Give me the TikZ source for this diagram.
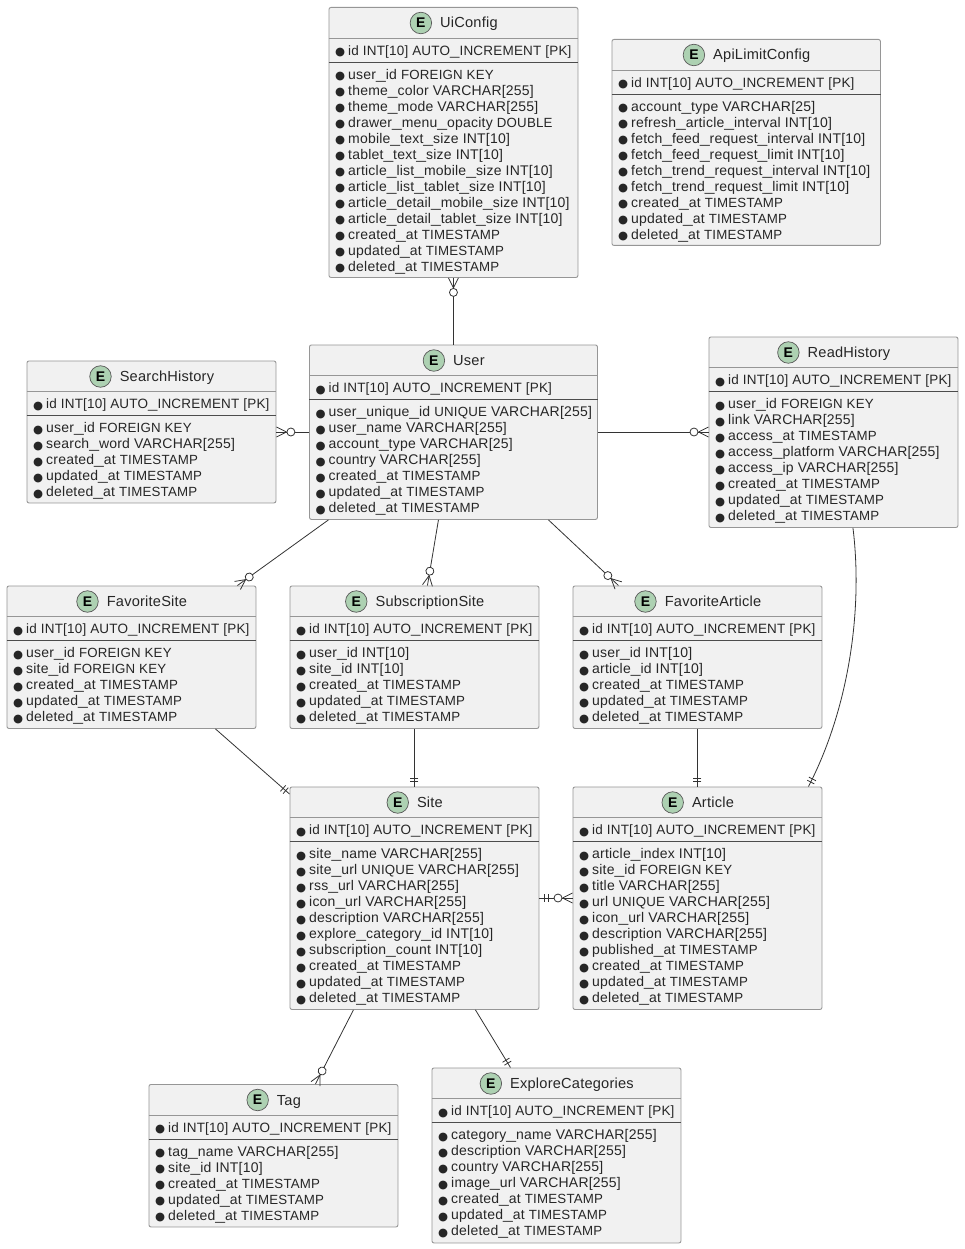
\documentclass[tikz,border=0pt]{standalone}
\usepackage{fontspec}
\usepackage{graphicx}
\setmainfont{Liberation Sans}[LetterSpace=1.5]
\newfontfamily\bulletfont{DejaVu Sans}
\usetikzlibrary{positioning,decorations.markings}

\definecolor{boxfill}{HTML}{F1F1F1}
\definecolor{boxline}{HTML}{969696}
\definecolor{iconfill}{HTML}{ADD1B2}
\definecolor{relline}{HTML}{333333}

\tikzset{
	entitybox/.style={draw=boxline, fill=boxfill, rounded corners=2pt, line width=.9pt, anchor=north west, inner sep=0pt},
	titletext/.style={font=\fontsize{14.6}{16}\selectfont, text=black!85, inner sep=0pt, text height=11pt, text depth=1pt},
	fieldtext/.style={font=\fontsize{14}{16}\selectfont, text=black!85, inner sep=0pt, align=left, anchor=north west},
	iconmark/.style={circle, draw=black!65, fill=iconfill, line width=.7pt, minimum size=21.5pt, inner sep=0pt, font=\bfseries\fontsize{14}{14}\selectfont},
	rel/.style={draw=relline, line width=.8pt},
	% crow's foot and circle, on either end of the line
	tozeromany/.style={postaction={decorate, decoration={markings, mark=at position .9999 with {
		\draw[rel] (-10,0) -- (0,-5) (-10,0) -- (0,5);
		\draw[rel, fill=white] (-14.5,0) circle (4);}}}},
	fromzeromany/.style={postaction={decorate, decoration={markings, mark=at position 0 with {
		\draw[rel] (10,0) -- (0,-5) (10,0) -- (0,5);
		\draw[rel, fill=white] (14.5,0) circle (4);}}}},
	toone/.style={postaction={decorate, decoration={markings, mark=at position .9999 with {
		\draw[rel] (-5,-4) -- (-5,4) (-8.5,-4) -- (-8.5,4);}}}},
	fromone/.style={postaction={decorate, decoration={markings, mark=at position 0 with {
		\draw[rel] (5,-4) -- (5,4) (8.5,-4) -- (8.5,4);}}}},
}

\renewcommand{\_}{\scalebox{1.25}[1]{\textunderscore}}
\newcommand{\fb}{\makebox[13pt][l]{\raisebox{-.5pt}{\fontsize{11.5}{16}\bulletfont ●}}}
\newcommand{\ty}[1]{{\fontsize{13.3}{16}\selectfont #1}}
\newcommand{\pkline}{\fb {\fontsize{13.5}{16}\selectfont id INT[10] AUTO\_INCREMENT [PK]}}

% name, left, top, width, height, title, fields
\newcommand{\entity}[7]{
	\node[entitybox, minimum width=#4pt, minimum height=#5pt] (#1) at (#2,#3) {};
	\node[titletext] (#1-title) at ([xshift=15.5pt,yshift=-16pt]#1.north) {#6};
	\node[iconmark, left=8pt of #1-title] (#1-icon) {E};
	\draw[boxline] ([yshift=-31pt]#1.north west) -- ([yshift=-31pt]#1.north east);
	\node[fieldtext] (#1-pk) at ([xshift=6.5pt,yshift=-38.5pt]#1.north west) {\pkline};
	\draw[black!70] ([yshift=-55pt]#1.north west) -- ([yshift=-55pt]#1.north east);
	\node[fieldtext] (#1-fields) at ([xshift=6.5pt,yshift=-62pt]#1.north west) {#7};
}

\begin{document}
\begin{tikzpicture}[x=1pt,y=-1pt]
	\useasboundingbox (0,0) rectangle (964,1249);

	\entity{uiconfig}{328.5}{7}{249}{270}{UiConfig}{\fb user\_id \ty{FOREIGN KEY}\\\fb theme\_color VARCHAR[255]\\\fb theme\_mode VARCHAR[255]\\\fb drawer\_menu\_opacity \ty{DOUBLE}\\\fb mobile\_text\_size INT[10]\\\fb tablet\_text\_size INT[10]\\\fb article\_list\_mobile\_size INT[10]\\\fb article\_list\_tablet\_size INT[10]\\\fb article\_detail\_mobile\_size INT[10]\\\fb article\_detail\_tablet\_size INT[10]\\\fb created\_at \ty{TIMESTAMP}\\\fb updated\_at \ty{TIMESTAMP}\\\fb deleted\_at \ty{TIMESTAMP}}
	\entity{apilimit}{611.5}{39}{268.5}{206}{ApiLimitConfig}{\fb account\_type VARCHAR[25]\\\fb refresh\_article\_interval INT[10]\\\fb fetch\_feed\_request\_interval INT[10]\\\fb fetch\_feed\_request\_limit INT[10]\\\fb fetch\_trend\_request\_interval INT[10]\\\fb fetch\_trend\_request\_limit INT[10]\\\fb created\_at \ty{TIMESTAMP}\\\fb updated\_at \ty{TIMESTAMP}\\\fb deleted\_at \ty{TIMESTAMP}}
	\entity{search}{26.5}{360.5}{249}{142}{SearchHistory}{\fb user\_id \ty{FOREIGN KEY}\\\fb search\_word VARCHAR[255]\\\fb created\_at \ty{TIMESTAMP}\\\fb updated\_at \ty{TIMESTAMP}\\\fb deleted\_at \ty{TIMESTAMP}}
	\entity{user}{309}{344.5}{288}{174.5}{User}{\fb user\_unique\_id \ty{UNIQUE} VARCHAR[255]\\\fb user\_name VARCHAR[255]\\\fb account\_type VARCHAR[25]\\\fb country VARCHAR[255]\\\fb created\_at \ty{TIMESTAMP}\\\fb updated\_at \ty{TIMESTAMP}\\\fb deleted\_at \ty{TIMESTAMP}}
	\entity{readhist}{708.5}{336.5}{249}{190.5}{ReadHistory}{\fb user\_id \ty{FOREIGN KEY}\\\fb link VARCHAR[255]\\\fb access\_at \ty{TIMESTAMP}\\\fb access\_platform VARCHAR[255]\\\fb access\_ip VARCHAR[255]\\\fb created\_at \ty{TIMESTAMP}\\\fb updated\_at \ty{TIMESTAMP}\\\fb deleted\_at \ty{TIMESTAMP}}
	\entity{favsite}{6.5}{585.5}{249}{142.5}{FavoriteSite}{\fb user\_id \ty{FOREIGN KEY}\\\fb site\_id \ty{FOREIGN KEY}\\\fb created\_at \ty{TIMESTAMP}\\\fb updated\_at \ty{TIMESTAMP}\\\fb deleted\_at \ty{TIMESTAMP}}
	\entity{subsite}{289.5}{585.5}{249}{142.5}{SubscriptionSite}{\fb user\_id INT[10]\\\fb site\_id INT[10]\\\fb created\_at \ty{TIMESTAMP}\\\fb updated\_at \ty{TIMESTAMP}\\\fb deleted\_at \ty{TIMESTAMP}}
	\entity{favarticle}{572.5}{585.5}{249}{142.5}{FavoriteArticle}{\fb user\_id INT[10]\\\fb article\_id INT[10]\\\fb created\_at \ty{TIMESTAMP}\\\fb updated\_at \ty{TIMESTAMP}\\\fb deleted\_at \ty{TIMESTAMP}}
	\entity{site}{289.5}{786.5}{249}{222.5}{Site}{\fb site\_name VARCHAR[255]\\\fb site\_url \ty{UNIQUE} VARCHAR[255]\\\fb rss\_url VARCHAR[255]\\\fb icon\_url VARCHAR[255]\\\fb description VARCHAR[255]\\\fb explore\_category\_id INT[10]\\\fb subscription\_count INT[10]\\\fb created\_at \ty{TIMESTAMP}\\\fb updated\_at \ty{TIMESTAMP}\\\fb deleted\_at \ty{TIMESTAMP}}
	\entity{article}{572.5}{786.5}{249}{222.5}{Article}{\fb article\_index INT[10]\\\fb site\_id \ty{FOREIGN KEY}\\\fb title VARCHAR[255]\\\fb url \ty{UNIQUE} VARCHAR[255]\\\fb icon\_url VARCHAR[255]\\\fb description VARCHAR[255]\\\fb published\_at \ty{TIMESTAMP}\\\fb created\_at \ty{TIMESTAMP}\\\fb updated\_at \ty{TIMESTAMP}\\\fb deleted\_at \ty{TIMESTAMP}}
	\entity{tag}{148.5}{1084}{249}{142.5}{Tag}{\fb tag\_name VARCHAR[255]\\\fb site\_id INT[10]\\\fb created\_at \ty{TIMESTAMP}\\\fb updated\_at \ty{TIMESTAMP}\\\fb deleted\_at \ty{TIMESTAMP}}
	\entity{explore}{431.5}{1067.5}{249}{175}{ExploreCategories}{\fb category\_name VARCHAR[255]\\\fb description VARCHAR[255]\\\fb country VARCHAR[255]\\\fb image\_url VARCHAR[255]\\\fb created\_at \ty{TIMESTAMP}\\\fb updated\_at \ty{TIMESTAMP}\\\fb deleted\_at \ty{TIMESTAMP}}

	% relations
	\draw[rel, fromzeromany] (uiconfig.south) -- (user.north);
	\draw[rel, fromzeromany] ([yshift=-71.5pt]search.north east) -- ([yshift=-87.5pt]user.north west);
	\draw[rel, tozeromany] ([yshift=-87.5pt]user.north east) -- ([yshift=-95.5pt]readhist.north west);
	\draw[rel, tozeromany] ([xshift=-125pt]user.south) -- ([xshift=106pt]favsite.north);
	\draw[rel, tozeromany] ([xshift=-15pt]user.south) -- ([xshift=13pt]subsite.north);
	\draw[rel, tozeromany] ([xshift=95pt]user.south) -- ([xshift=-79pt]favarticle.north);
	\draw[rel, toone] ([xshift=84pt]favsite.south) -- ([yshift=-7.5pt]site.north west);
	\draw[rel, toone] (subsite.south) -- (site.north);
	\draw[rel, toone] (favarticle.south) -- (article.north);
	\draw[rel, toone] ([xshift=19.5pt]readhist.south) .. controls ([xshift=30pt,yshift=-85pt]readhist.south) and ([xshift=150pt,yshift=75pt]article.north) .. ([xshift=111pt]article.north);
	\draw[rel, fromone, tozeromany] ([yshift=-111.5pt]site.north east) -- ([yshift=-111.5pt]article.north west);
	\draw[rel, tozeromany] ([xshift=-61pt]site.south) -- ([xshift=42pt]tag.north);
	\draw[rel, toone] ([xshift=61pt]site.south) -- ([xshift=-46pt]explore.north);
\end{tikzpicture}
\end{document}
